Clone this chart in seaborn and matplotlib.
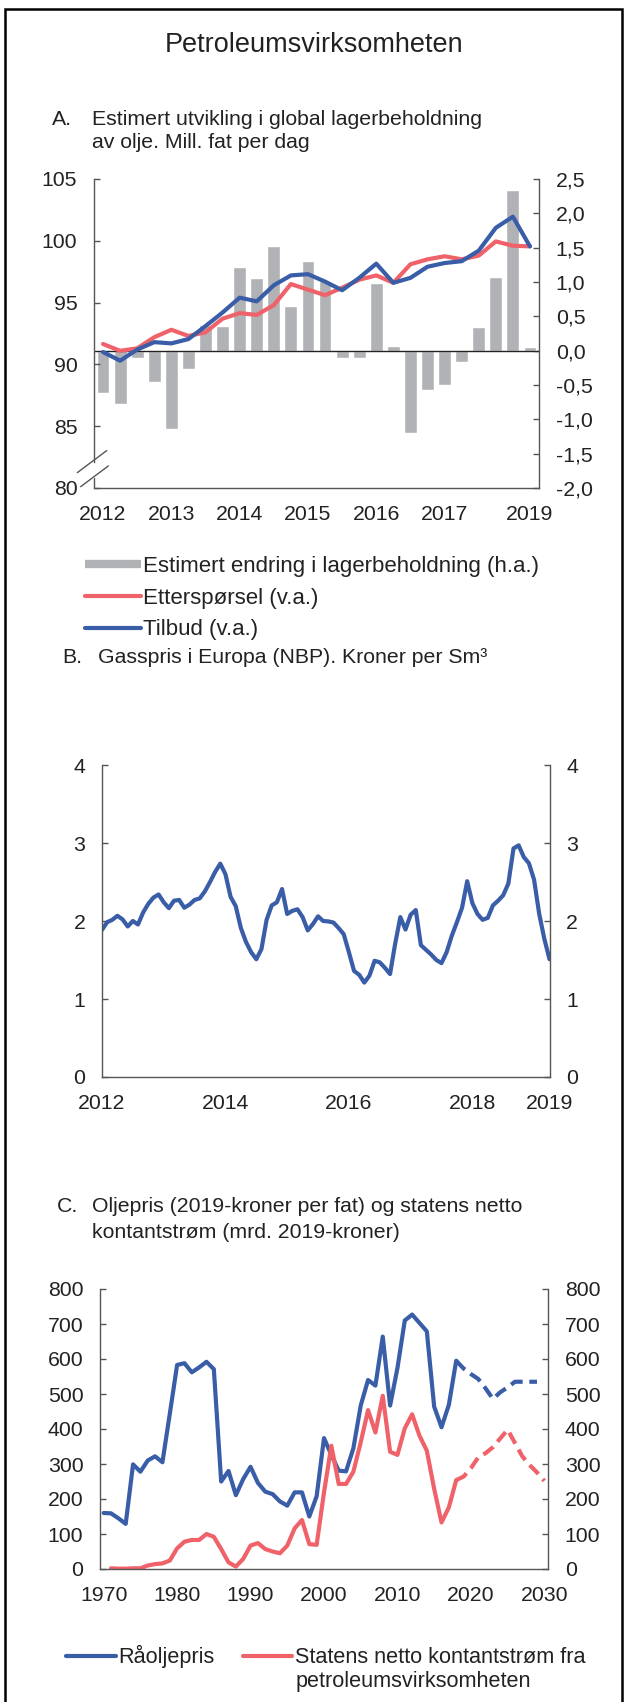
import numpy as np
import matplotlib
matplotlib.use('Agg')
import matplotlib.pyplot as plt
from matplotlib.lines import Line2D
from matplotlib.patches import Rectangle
from matplotlib.ticker import FuncFormatter
import seaborn as sns

# Panel A: quarterly 2012Q1 - 2018Q2
stock_change = [-0.62, -0.77, -0.11, -0.45, -1.14, -0.26, 0.38, 0.36, 1.22, 1.06, 1.52, 0.65, 1.30,
                1.02, -0.11, -0.10, 0.98, 0.07, -1.20, -0.58, -0.50, -0.16, 0.34, 1.07, 2.34, 0.06]
supply = [91.0, 90.3, 91.2, 91.8, 91.7, 92.05, 93.1, 94.2, 95.4, 95.1, 96.4, 97.2, 97.3,
          96.7, 96.0, 97.0, 98.15, 96.6, 97.0, 97.9, 98.2, 98.35, 99.2, 101.05, 101.95, 99.55]
demand = [91.65, 91.1, 91.3, 92.2, 92.8, 92.3, 92.6, 93.7, 94.15, 94.0, 94.8, 96.5, 96.05,
          95.6, 96.2, 96.85, 97.2, 96.6, 98.1, 98.5, 98.75, 98.5, 98.8, 99.95, 99.6, 99.55]
a_tick_pos = [0, 4, 8, 12, 16, 20, 25]
a_tick_labels = ['2012', '2013', '2014', '2015', '2016', '2017', '2019']

# Panel B: monthly gas price Jan 2012 - Apr 2019
gas_price = [1.886, 1.985, 2.015, 2.067, 2.02, 1.93, 2.0, 1.955, 2.11, 2.22, 2.30, 2.34,
             2.24, 2.165, 2.26, 2.27, 2.17, 2.21, 2.27, 2.29, 2.38, 2.50, 2.63, 2.735,
             2.60, 2.31, 2.19, 1.91, 1.73, 1.60, 1.51, 1.64, 2.015, 2.20, 2.24, 2.41,
             2.09, 2.13, 2.15, 2.05, 1.88, 1.96, 2.06, 2.0, 1.995, 1.98, 1.91, 1.83,
             1.60, 1.36, 1.31, 1.21, 1.30, 1.49, 1.47, 1.40, 1.32, 1.71, 2.05, 1.89,
             2.08, 2.14, 1.69, 1.63, 1.57, 1.50, 1.46, 1.60, 1.81, 1.985, 2.17, 2.51,
             2.23, 2.09, 2.015, 2.04, 2.20, 2.26, 2.33, 2.48, 2.93, 2.97, 2.82, 2.74,
             2.53, 2.09, 1.77, 1.51]
b_tick_pos = [0, 24, 48, 72, 87]
b_tick_labels = ['2012', '2014', '2016', '2018', '2019']

# Panel C: yearly
oil_years = list(range(1970, 2030))
oil_price = [160, 159, 145, 129, 299, 278, 310, 322, 305, 443, 583, 588, 562, 576, 592, 571,
             250, 280, 211, 257, 292, 246, 221, 214, 193, 181, 219, 219, 150, 208, 374, 326,
             281, 279, 345, 467, 540, 524, 664, 467, 574, 710, 727, 703, 679, 464, 405, 469,
             595, 573, 557, 543, 516, 486, 505, 519, 535, 535, 535, 535]
cash_years = list(range(1971, 2031))
cash_flow = [2, 1, 1, 2, 2, 10, 14, 16, 24, 59, 78, 83, 83, 100, 92, 57, 19, 7, 29, 67, 74,
             57, 50, 45, 67, 116, 140, 71, 69, 219, 352, 243, 243, 278, 362, 454, 390, 495,
             335, 326, 402, 442, 381, 338, 229, 133, 176, 254, 264, 288, 319, 331, 348, 373,
             398, 360, 322, 297, 276, 252]
last_actual = 2018

blue = '#3a5da8'
red = '#f0626a'
gray = '#b1b2b5'
spine_col = '#555555'
txt_col = '#222222'

sns.set_style('white')
plt.rcParams['font.family'] = ['Liberation Sans', 'DejaVu Sans']
fs = 15.3
leg_fs = 16
leg_c_fs = 15.6
plt.rcParams['font.size'] = fs

fig = plt.figure(figsize=(6.28, 17.02), dpi=100)
W, H = 628.0, 1702.0


def box(l, r, t, b):
    return [l / W, 1 - b / H, (r - l) / W, (b - t) / H]


def style_axes(ax):
    for s in ['left', 'right', 'bottom']:
        ax.spines[s].set_color(spine_col)
        ax.spines[s].set_linewidth(1.0)
    ax.spines['top'].set_visible(False)
    ax.tick_params(axis='y', direction='in', length=4.5, width=1, color=spine_col,
                   pad=12, labelsize=fs, labelcolor=txt_col)
    ax.tick_params(axis='x', length=0, pad=12, labelsize=fs, labelcolor=txt_col)
    ax.set_xlabel('')
    ax.set_ylabel('')


# ---- Panel A ----
ax = fig.add_axes(box(94, 539, 179, 488))
ax2 = ax.twinx()
sns.barplot(x=np.arange(len(stock_change)), y=stock_change, ax=ax2, color=gray,
            saturation=1, width=0.75)
ax2.axhline(0, color=txt_col, lw=1.0)
sns.lineplot(x=np.arange(len(demand)), y=demand, ax=ax, color=red, lw=3)
sns.lineplot(x=np.arange(len(supply)), y=supply, ax=ax, color=blue, lw=3)
ax.set_zorder(ax2.get_zorder() + 1)
ax.patch.set_visible(False)
ax.set_ylim(80, 105)
ax.set_yticks([80, 85, 90, 95, 100, 105])
ax2.set_ylim(-2.0, 2.5)
ax2.set_yticks(np.arange(-2.0, 2.51, 0.5))
ax2.yaxis.set_major_formatter(FuncFormatter(lambda v, p: f'{v:.1f}'.replace('.', ',')))
ax.set_xlim(-0.53, len(supply) - 0.47)
ax.set_xticks(a_tick_pos)
ax.set_xticklabels(a_tick_labels)
style_axes(ax)
style_axes(ax2)
ax.spines['right'].set_visible(False)
ax2.spines['left'].set_visible(False)
ax2.spines['bottom'].set_visible(False)
ax2.tick_params(axis='x', length=0)
# axis break
ax.spines['left'].set_bounds(82.1, 105)
ax.plot([0, 0], [0, 0.0325], transform=ax.transAxes, color=spine_col, lw=1.0, clip_on=False)
ax.plot([-0.0375, 0.0285], [0.0497, 0.121], transform=ax.transAxes, color=spine_col, lw=1.0, clip_on=False)
ax.plot([-0.030, 0.0321], [0.0042, 0.0714], transform=ax.transAxes, color=spine_col, lw=1.0, clip_on=False)

leg_a = [Line2D([], [], color=gray, lw=6, solid_capstyle='butt'),
         Line2D([], [], color=red, lw=3),
         Line2D([], [], color=blue, lw=3)]
fig.legend(leg_a, ['Estimert endring i lagerbeholdning (h.a.)', 'Etterspørsel (v.a.)', 'Tilbud (v.a.)'],
           loc='upper left', bbox_to_anchor=(85 / W, 1 - 556 / H), frameon=False, fontsize=leg_fs,
           handlelength=2.5, handletextpad=0.12, labelspacing=0.48, borderpad=0, borderaxespad=0,
           labelcolor=txt_col)

# ---- Panel B ----
bx = fig.add_axes(box(102, 549.5, 765, 1077))
sns.lineplot(x=np.arange(len(gas_price)), y=gas_price, ax=bx, color=blue, lw=3)
bx.set_xlim(0, len(gas_price) - 1)
bx.set_ylim(0, 4)
bx.set_yticks([0, 1, 2, 3, 4])
bx.set_xticks(b_tick_pos)
bx.set_xticklabels(b_tick_labels)
bx.yaxis.set_ticks_position('both')
style_axes(bx)
bx.tick_params(axis='y', labelright=True)

# ---- Panel C ----
cx = fig.add_axes(box(100, 548, 1289, 1569))
n_oil = oil_years.index(last_actual) + 1
n_cash = cash_years.index(last_actual) + 1
sns.lineplot(x=oil_years[:n_oil], y=oil_price[:n_oil], ax=cx, color=blue, lw=3)
sns.lineplot(x=oil_years[n_oil - 1:], y=oil_price[n_oil - 1:], ax=cx, color=blue, lw=3)
cx.lines[-1].set_dashes((3, 1.6))
sns.lineplot(x=cash_years[:n_cash], y=cash_flow[:n_cash], ax=cx, color=red, lw=3)
sns.lineplot(x=cash_years[n_cash - 1:], y=cash_flow[n_cash - 1:], ax=cx, color=red, lw=3)
cx.lines[-1].set_dashes((3, 1.6))
cx.set_xlim(1969.5, 2030.5)
cx.set_ylim(0, 800)
cx.set_yticks(range(0, 801, 100))
cx.set_xticks(range(1970, 2031, 10))
cx.yaxis.set_ticks_position('both')
style_axes(cx)
cx.tick_params(axis='y', labelright=True)

leg_c = [Line2D([], [], color=blue, lw=3), Line2D([], [], color=red, lw=3)]
lg_c = fig.legend(leg_c, ['Råoljepris', 'Statens netto kontantstrøm fra'],
                  loc='upper left', bbox_to_anchor=(66 / W, 1 - 1645 / H), ncol=2, frameon=False,
                  fontsize=leg_c_fs, handlelength=2.3, handletextpad=0.12, columnspacing=1.29,
                  borderpad=0, borderaxespad=0, labelcolor=txt_col)

# ---- Titles ----
fig.text(314 / W, 1 - 45 / H, 'Petroleumsvirksomheten', ha='center', va='center',
         fontsize=19.5, color=txt_col)
fig.text(52 / W, 1 - 110 / H, 'A.', ha='left', va='top', fontsize=fs, color=txt_col)
fig.text(92 / W, 1 - 110 / H, 'Estimert utvikling i global lagerbeholdning\nav olje. Mill. fat per dag',
         ha='left', va='top', fontsize=fs, linespacing=1.3, color=txt_col)
fig.text(62 / W, 1 - 658 / H, 'B.', ha='left', va='center', fontsize=fs, color=txt_col)
fig.text(98 / W, 1 - 658 / H, 'Gasspris i Europa (NBP). Kroner per Sm³',
         ha='left', va='center', fontsize=fs, color=txt_col)
fig.text(57 / W, 1 - 1197 / H, 'C.', ha='left', va='top', fontsize=fs, color=txt_col)
fig.text(92 / W, 1 - 1197 / H, 'Oljepris (2019-kroner per fat) og statens netto\nkontantstrøm (mrd. 2019-kroner)',
         ha='left', va='top', fontsize=fs, linespacing=1.45, color=txt_col)

# second line of the red legend label, aligned with the legend text
fig.canvas.draw()
x0 = lg_c.get_texts()[1].get_window_extent().x0
fig.text(x0 / W, 1 - 1682 / H, 'petroleumsvirksomheten', ha='left', va='center',
         fontsize=leg_c_fs, color=txt_col)

# frame
fig.add_artist(Rectangle((5 / W, -0.01), 617 / W, (H - 9) / H + 0.01, transform=fig.transFigure,
                         fill=False, lw=1.8, edgecolor='black', clip_on=False))

fig.savefig('out.png', dpi=100)
